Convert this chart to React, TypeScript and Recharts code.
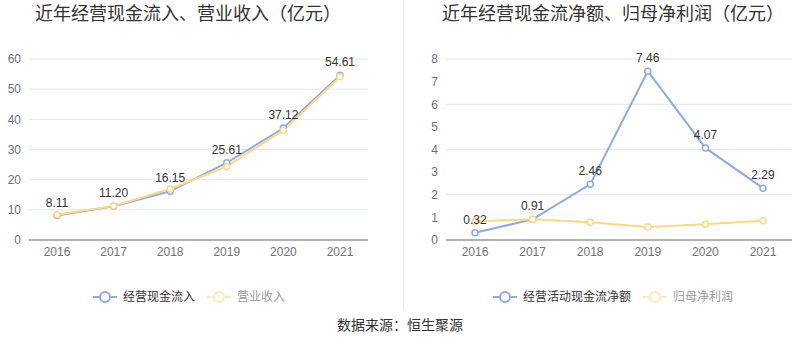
import React from 'react';
import { LineChart, Line, XAxis, YAxis, CartesianGrid, LabelList } from 'recharts';

const years = ['2016', '2017', '2018', '2019', '2020', '2021'];
const cashInflow = [8.11, 11.2, 16.15, 25.61, 37.12, 54.61];
const revenue = [8.4, 11.3, 16.9, 24.4, 36.4, 54.1];
const netCashFlow = [0.32, 0.91, 2.46, 7.46, 4.07, 2.29];
const netProfit = [0.82, 0.92, 0.78, 0.57, 0.7, 0.85];
const leftTicks = [0, 10, 20, 30, 40, 50, 60];
const rightTicks = [0, 1, 2, 3, 4, 5, 6, 7, 8];

const BLUE = '#8eabdc';
const YELLOW = '#fdd68c';
const FONT = '"Liberation Sans", "Noto Sans CJK SC", sans-serif';

const leftData = years.map((y, i) => ({ year: y, inflow: cashInflow[i], revenue: revenue[i] }));
const rightData = years.map((y, i) => ({ year: y, netCash: netCashFlow[i], profit: netProfit[i] }));

const tickStyle = { fill: '#6e7079', fontSize: 12, fontFamily: FONT };
const fmt = (v: any) => Number(v).toFixed(2);

const LegendIcon = ({ color }: { color: string }) => (
  <svg width={24} height={14} style={{ display: 'block' }}>
    <line x1={0} y1={7} x2={24} y2={7} stroke={color} strokeWidth={2} />
    <circle cx={12} cy={7} r={5} fill="#fff" stroke={color} strokeWidth={2} />
  </svg>
);

const Legend = ({ left, items }: { left: number; items: { name: string; color: string; text: string }[] }) => (
  <div style={{ position: 'absolute', left, top: 290, display: 'flex', alignItems: 'center', fontSize: 12, fontFamily: FONT }}>
    {items.map((it, i) => (
      <div key={it.name} style={{ display: 'flex', alignItems: 'center', marginLeft: i ? 12 : 0 }}>
        <LegendIcon color={it.color} />
        <span style={{ marginLeft: 6, color: it.text, lineHeight: '14px' }}>{it.name}</span>
      </div>
    ))}
  </div>
);

const title: React.CSSProperties = {
  position: 'absolute', top: 5, fontSize: 18, lineHeight: '18px', color: '#333', fontFamily: FONT, whiteSpace: 'nowrap',
};

const App: React.FC = () => {
  return (
    <div style={{ position: 'fixed', left: 0, top: 0, width: 800, height: 358, background: '#fff', fontFamily: FONT }}>
      <div style={{ ...title, left: 35 }}>近年经营现金流入、营业收入（亿元）</div>
      <div style={{ ...title, left: 442 }}>近年经营现金流净额、归母净利润（亿元）</div>

      <div style={{ position: 'absolute', left: 0, top: 0 }}>
        <LineChart width={400} height={280} data={leftData} margin={{ top: 59, right: 32, bottom: 10, left: 0 }}>
          <CartesianGrid vertical={false} stroke="#e0e6f1" />
          <XAxis dataKey="year" height={30} padding={{ left: 28, right: 28 }} tickLine={false}
            axisLine={{ stroke: '#6e7079' }} tick={tickStyle} tickMargin={1} />
          <YAxis width={29} domain={[0, 60]} ticks={leftTicks} axisLine={false} tickLine={false} tick={tickStyle} />
          <Line dataKey="inflow" stroke={BLUE} strokeWidth={2} isAnimationActive={false}
            dot={{ r: 3, fill: '#fff', stroke: BLUE, strokeWidth: 1.5 }}>
            <LabelList dataKey="inflow" position="top" offset={9} formatter={fmt}
              style={{ fill: '#333', fontSize: 12, fontFamily: FONT }} />
          </Line>
          <Line dataKey="revenue" stroke={YELLOW} strokeWidth={2} isAnimationActive={false}
            dot={{ r: 3, fill: '#fff', stroke: YELLOW, strokeWidth: 1.5 }} />
        </LineChart>
      </div>

      <div style={{ position: 'absolute', left: 400, top: 0 }}>
        <LineChart width={400} height={280} data={rightData} margin={{ top: 59, right: 8, bottom: 10, left: 0 }}>
          <CartesianGrid vertical={false} stroke="#e0e6f1" />
          <XAxis dataKey="year" height={30} padding={{ left: 29, right: 29 }} tickLine={false}
            axisLine={{ stroke: '#6e7079' }} tick={tickStyle} tickMargin={1} />
          <YAxis width={46} domain={[0, 8]} ticks={rightTicks} axisLine={false} tickLine={false} tick={tickStyle} />
          <Line dataKey="netCash" stroke={BLUE} strokeWidth={2} isAnimationActive={false}
            dot={{ r: 3, fill: '#fff', stroke: BLUE, strokeWidth: 1.5 }}>
            <LabelList dataKey="netCash" position="top" offset={9} formatter={fmt}
              style={{ fill: '#333', fontSize: 12, fontFamily: FONT }} />
          </Line>
          <Line dataKey="profit" stroke={YELLOW} strokeWidth={2} isAnimationActive={false}
            dot={{ r: 3, fill: '#fff', stroke: YELLOW, strokeWidth: 1.5 }} />
        </LineChart>
      </div>

      <div style={{ position: 'absolute', left: 403, top: 0, width: 1, height: 310, background: '#eeeeee' }} />

      <Legend left={93} items={[
        { name: '经营现金流入', color: BLUE, text: '#333' },
        { name: '营业收入', color: '#ffe7bf', text: '#999' },
      ]} />
      <Legend left={493} items={[
        { name: '经营活动现金流净额', color: BLUE, text: '#333' },
        { name: '归母净利润', color: '#ffe7bf', text: '#999' },
      ]} />

      <div style={{ position: 'absolute', left: 0, width: 800, top: 317, textAlign: 'center', fontSize: 14,
        lineHeight: '16px', color: '#333', fontFamily: FONT }}>
        数据来源：恒生聚源
      </div>
    </div>
  );
};

export default App;
